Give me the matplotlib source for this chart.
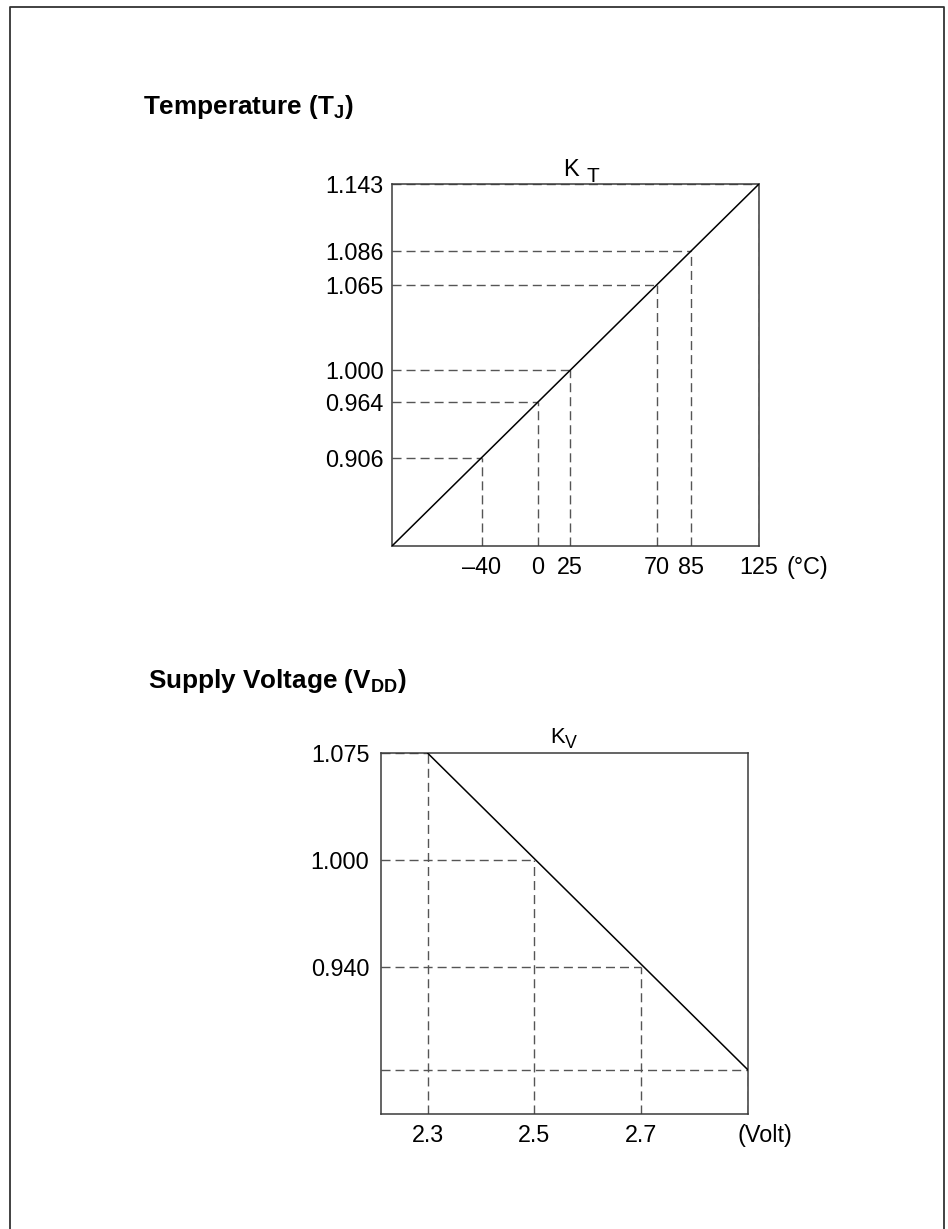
import numpy as np
import matplotlib
matplotlib.use("Agg")
import matplotlib.pyplot as plt
from matplotlib.lines import Line2D

plt.rcParams["font.family"] = ["Liberation Sans", "DejaVu Sans"]
plt.rcParams["mathtext.default"] = "regular"

# --- data ---
temp_c = [-40, 0, 25, 70, 85, 125]
k_temp = [0.906, 0.964, 1.000, 1.065, 1.086, 1.143]

vdd_volt = [2.3, 2.5, 2.7, 2.9]
k_volt = [1.075, 1.000, 0.940, 0.890]
k_volt_labelled = [1.075, 1.000, 0.940]

# schematic (non-proportional) placement of the points along each axis, 0..1
temp_pos = [0.244, 0.398, 0.485, 0.722, 0.816, 1.0]
kt_pos = [0.244, 0.398, 0.485, 0.722, 0.816, 1.0]
vdd_pos = [0.127, 0.418, 0.709, 1.0]
kv_pos = [1.0, 0.703, 0.408, 0.123]

W, H = 948, 1229
TICK_FS = 16.8


def knot_scale(values, pos):
    """piecewise-linear value->position scale, extended linearly to pos 0"""
    v = np.asarray(values, float)
    p = np.asarray(pos, float)
    order = np.argsort(v)
    v, p = v[order], p[order]
    v0 = v[0] - p[0] * (v[1] - v[0]) / (p[1] - p[0])
    kv = np.r_[v0, v]
    kp = np.r_[0.0, p]

    def _map(x, a, b):
        x = np.asarray(x, float)
        out = np.interp(x, a, b)
        s0 = (b[1] - b[0]) / (a[1] - a[0])
        s1 = (b[-1] - b[-2]) / (a[-1] - a[-2])
        out = np.where(x < a[0], b[0] + (x - a[0]) * s0, out)
        out = np.where(x > a[-1], b[-1] + (x - a[-1]) * s1, out)
        return out

    fwd = lambda x: _map(x, kv, kp)
    inv = lambda y: _map(y, kp, kv)
    return (fwd, inv), (kv[0], kv[-1])


def px_axes(left, top, right, bottom):
    return [left / W, 1 - bottom / H, (right - left) / W, (bottom - top) / H]


def fig_text(x, y, s, **kw):
    fig.text(x / W, 1 - y / H, s, va="baseline", **kw)


def derating(ax, xs, ys, xpos, ypos, ylabels, xlabels):
    xfun, xlim = knot_scale(xs, xpos)
    yfun, ylim = knot_scale(ys, ypos)
    ax.set_xscale("function", functions=xfun)
    ax.set_yscale("function", functions=yfun)
    ax.set_xlim(*xlim)
    ax.set_ylim(*ylim)

    dash = dict(color="#555555", lw=1.0, linestyle=(0, (6.5, 3.6)), zorder=1)
    ax.hlines(ys, xlim[0], xs, **dash)
    ax.vlines(xs, ylim[0], ys, **dash)
    ax.axline((xs[0], ys[0]), (xs[-1], ys[-1]), color="black", lw=1.1, zorder=3)

    ax.set_xticks([x for x, lab in zip(xs, xlabels) if lab],
                  labels=[lab for lab in xlabels if lab])
    ax.set_yticks(ylabels, labels=[f"{v:.3f}" for v in ylabels])
    ax.tick_params(length=0, labelsize=TICK_FS)
    ax.tick_params(axis="y", pad=6.0)
    ax.tick_params(axis="x", pad=7.5)
    for sp in ax.spines.values():
        sp.set_color("#3a3a3a")
        sp.set_linewidth(1.1)


fig = plt.figure(figsize=(W / 100, H / 100), dpi=100)

# page frame (left, top, right edges only)
fig.add_artist(Line2D([10 / W, 10 / W, 944 / W, 944 / W],
                      [-0.01, 1 - 7 / H, 1 - 7 / H, -0.01],
                      transform=fig.transFigure, color="#333333", lw=1.3))

# --- temperature chart ---
ax1 = fig.add_axes(px_axes(392, 184, 759, 546))
derating(ax1, temp_c, k_temp, temp_pos, kt_pos, k_temp,
         [f"{t:g}".replace("-", "\u2013") for t in temp_c])
ax1.annotate("(\u00b0C)", xy=(1, 0), xycoords="axes fraction",
             xytext=(19.5, -7.5), textcoords="offset points",
             ha="left", va="top", fontsize=TICK_FS)

fig_text(143, 114, r"Temperature (T$_{J}$)", fontsize=18.8, fontweight="bold")
fig_text(562.7, 175.7, "K", fontsize=17)
fig_text(586.7, 181.7, "T", fontsize=15)

# --- supply voltage chart ---
ax2 = fig.add_axes(px_axes(381.3, 753.3, 747.7, 1114))
derating(ax2, vdd_volt, k_volt, vdd_pos, kv_pos, k_volt_labelled,
         [f"{v:.1f}" for v in vdd_volt[:-1]] + [""])
ax2.annotate("(Volt)", xy=(1, 0), xycoords="axes fraction",
             xytext=(12.5, -7.5), textcoords="offset points",
             ha="center", va="top", fontsize=TICK_FS)
ax2.tick_params(axis="y", pad=8.5)

fig_text(148, 688, r"Supply Voltage (V$_{DD}$)", fontsize=18.8, fontweight="bold")
fig_text(550.7, 743.3, "K", fontsize=15.8)
fig_text(565, 748, "V", fontsize=12.8)

fig.savefig("out.png", dpi=100)
